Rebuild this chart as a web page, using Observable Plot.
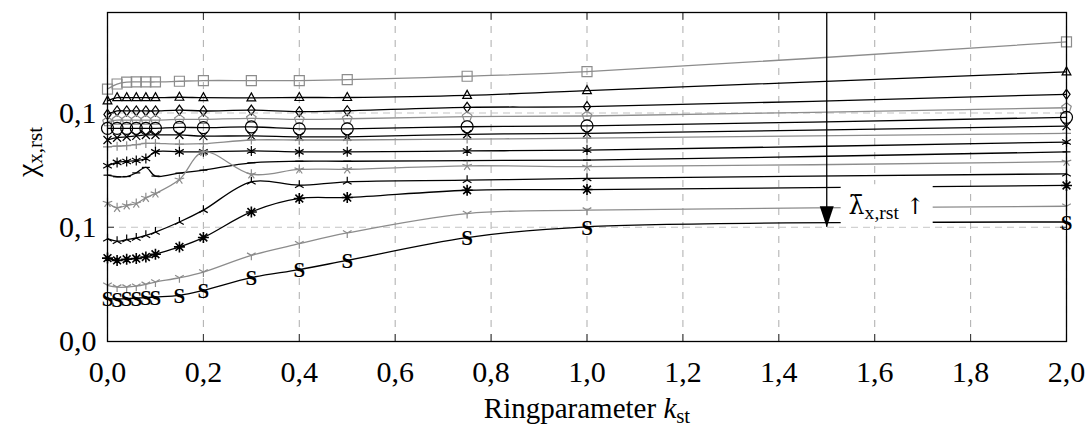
<!DOCTYPE html>
<html><head><meta charset="utf-8">
<script src="https://cdn.jsdelivr.net/npm/d3@7"></script>
<script src="https://cdn.jsdelivr.net/npm/@observablehq/plot@0.6"></script>
<style>body{margin:0;background:#fff} svg{display:block}</style>
</head><body><div id="chart"></div>
<script>
// ---------- data ----------
const kst = [0, 0.02, 0.04, 0.06, 0.08, 0.1, 0.15, 0.2, 0.3, 0.4, 0.5, 0.75, 1.0, 2.0];
const sSquare   = [0.1105,0.1127,0.1135,0.1136,0.1136,0.1136,0.1139,0.1142,0.1142,0.1142,0.1146,0.1161,0.1181,0.1311];
const sTriangle = [0.1053,0.1067,0.1067,0.1067,0.1067,0.1067,0.1069,0.1067,0.1066,0.1068,0.1068,0.1077,0.1098,0.1180];
const sDiamond  = [0.0994,0.1009,0.1009,0.1009,0.1009,0.1009,0.1013,0.1009,0.1013,0.1006,0.1010,0.1025,0.1028,0.1082];
const sPentagon = [0.0962,0.0969,0.0969,0.0969,0.0969,0.0969,0.0972,0.0972,0.0977,0.0972,0.0975,0.0984,0.0987,0.1023];
const sCircle   = [0.0933,0.0933,0.0933,0.0933,0.0933,0.0933,0.0937,0.0936,0.0939,0.0931,0.0931,0.0940,0.0944,0.0981];
const sTimes    = [0.0882,0.0892,0.0896,0.0900,0.0904,0.0904,0.0904,0.0899,0.0900,0.0896,0.0896,0.0907,0.0911,0.0943];
const sPlus     = [0.0852,0.0855,0.0857,0.0862,0.0867,0.0867,0.0864,0.0866,0.0882,0.0882,0.0882,0.0886,0.0890,0.0911];
const sAsterisk = [0.0769,0.0784,0.0788,0.0792,0.0801,0.0830,0.0830,0.0830,0.0834,0.0830,0.0830,0.0834,0.0838,0.0873];
const sMinus    = [0.0728,0.0721,0.0722,0.0738,0.0762,0.0724,0.0737,0.0750,0.0782,0.0789,0.0789,0.0792,0.0794,0.0830];
const sStar     = [0.0607,0.0585,0.0596,0.0604,0.0629,0.0648,0.0709,0.0830,0.0732,0.0753,0.0754,0.0769,0.0765,0.0787];
const sTriUp    = [0.0450,0.0439,0.0446,0.0453,0.0465,0.0479,0.0523,0.0575,0.0699,0.0684,0.0699,0.0706,0.0714,0.0734];
const sBurst    = [0.0365,0.0355,0.0360,0.0363,0.0370,0.0382,0.0414,0.0455,0.0567,0.0626,0.0630,0.0662,0.0665,0.0683];
const sTriDown  = [0.0246,0.0238,0.0238,0.0242,0.0250,0.0260,0.0279,0.0304,0.0377,0.0428,0.0475,0.0560,0.0575,0.0592];
const sS        = [0.0188,0.0187,0.0188,0.0190,0.0192,0.0195,0.0202,0.0224,0.0280,0.0315,0.0355,0.0455,0.0502,0.0523];

const xTicks = [0, 0.2, 0.4, 0.6, 0.8, 1.0, 1.2, 1.4, 1.6, 1.8, 2.0];
const xTickLabels = ["0,0","0,2","0,4","0,6","0,8","1,0","1,2","1,4","1,6","1,8","2,0"];
const yTicks = [0, 0.05, 0.1];
const yTickLabels = ["0,0","0,1","0,1"];
const xLabel = "Ringparameter kst";
const yLabel = "χx,rst";
const arrowAt = [{k: 1.5, v: 0.05}];
const annotation = [{k: 1.625, v: 0.0596, text: "λ̄x,rst ↑"}];

// ---------- styling ----------
const BLACK = "#000", GRAY = "#8c8c8c";
const SERIF = "'Liberation Serif', 'DejaVu Serif', serif";
const YMAX = 0.144;
const sym = fn => ({draw(c, size){ fn(c, Math.sqrt(size/Math.PI)); }});
const poly = (c, pts) => { pts.forEach(([x,y],i)=> i? c.lineTo(x,y) : c.moveTo(x,y)); c.closePath(); };
const rays = (c, r, angles) => angles.forEach(a => { c.moveTo(0,0); c.lineTo(r*Math.cos(a), r*Math.sin(a)); });
const deg = Math.PI/180;
const SYM = {
  square: sym((c,r)=>poly(c, [[-r,-r],[r,-r],[r,r],[-r,r]])),
  triangle: sym((c,r)=>poly(c, [[0,-r*1.1],[r*0.95,r*0.65],[-r*0.95,r*0.65]])),
  diamond: sym((c,r)=>poly(c, [[0,-r],[r*0.72,0],[0,r],[-r*0.72,0]])),
  pentagon: sym((c,r)=>poly(c, d3.range(5).map(i=>[r*Math.cos(-90*deg+i*72*deg), r*Math.sin(-90*deg+i*72*deg)]))),
  circle: sym((c,r)=>{c.moveTo(r,0); c.arc(0,0,r,0,2*Math.PI);}),
  times: sym((c,r)=>{c.moveTo(-r,-r);c.lineTo(r,r);c.moveTo(-r,r);c.lineTo(r,-r);}),
  plus: sym((c,r)=>{c.moveTo(-r,0);c.lineTo(r,0);c.moveTo(0,-r);c.lineTo(0,r);}),
  asterisk: sym((c,r)=>rays(c, r, [-90,-30,30,90,150,210].map(a=>a*deg))),
  star: sym((c,r)=>rays(c, r, [-90,-18,54,126,198].map(a=>a*deg))),
  minus: sym((c,r)=>{c.moveTo(-r,0);c.lineTo(r,0);}),
  triUp: sym((c,r)=>rays(c, r, [-90,30,150].map(a=>a*deg))),
  triDown: sym((c,r)=>rays(c, r, [90,-30,-150].map(a=>a*deg))),
  burst: sym((c,r)=>rays(c, r, d3.range(8).map(i=>i*45*deg))),
  arrowHead: sym((c,r)=>poly(c, [[0,0],[-7,-21],[7,-21]])),
  box: sym((c,r)=>poly(c, [[-46,-21],[46,-21],[46,21],[-46,21]]))
};

const series = [
  {values: sSquare,   color: GRAY,  symbol: SYM.square,   r: 5},
  {values: sTriangle, color: BLACK, symbol: SYM.triangle, r: 4.6},
  {values: sDiamond,  color: BLACK, symbol: SYM.diamond,  r: 5},
  {values: sPentagon, color: GRAY,  symbol: SYM.pentagon, r: 5},
  {values: sCircle,   color: BLACK, symbol: SYM.circle,   r: 6},
  {values: sTimes,    color: BLACK, symbol: SYM.times,    r: 4},
  {values: sPlus,     color: GRAY,  symbol: SYM.plus,     r: 4.5},
  {values: sAsterisk, color: BLACK, symbol: SYM.asterisk, r: 5},
  {values: sMinus,    color: BLACK, symbol: SYM.minus,    r: 4},
  {values: sStar,     color: GRAY,  symbol: SYM.star,     r: 5},
  {values: sTriUp,    color: BLACK, symbol: SYM.triUp,    r: 5},
  {values: sBurst,    color: BLACK, symbol: SYM.burst,    r: 5.5, sw: 1.6},
  {values: sTriDown,  color: GRAY,  symbol: SYM.triDown,  r: 5},
  {values: sS,        color: BLACK, text: "S"}
];

const marks = [
  Plot.gridX(xTicks, {stroke: "#b4b4b4", strokeOpacity: 1, strokeDasharray: "7,7", strokeWidth: 1.1}),
  Plot.gridY(yTicks.filter(d => d > 0), {stroke: "#c4c4c4", strokeOpacity: 1, strokeDasharray: "7,5", strokeWidth: 1.1}),
  Plot.axisX(xTicks, {anchor: "bottom", tickSize: -7, fill: "none", label: null, stroke: "#333"}),
  Plot.axisX(xTicks, {anchor: "top", tickSize: -7, fill: "none", label: null, stroke: "#333"}),
  Plot.axisY(yTicks, {anchor: "left", tickSize: -7, fill: "none", label: null, stroke: "#333"}),
  Plot.axisY(yTicks, {anchor: "right", tickSize: -7, fill: "none", label: null, stroke: "#333"}),
  Plot.axisX(xTicks, {anchor: "bottom", tickSize: 0, tickPadding: 19, stroke: "none", label: null,
    tickFormat: d => xTickLabels[xTicks.indexOf(d)], fontSize: 30, fontFamily: SERIF, fill: "#000"}),
  Plot.axisY(yTicks, {anchor: "left", tickSize: 0, tickPadding: 11, stroke: "none", label: null,
    tickFormat: d => yTickLabels[yTicks.indexOf(d)], fontSize: 30, fontFamily: SERIF, fill: "#000"})
];

for (const s of series) {
  const rows = s.values.map((v, i) => ({k: kst[i], v}));
  marks.push(Plot.line(rows, {x: "k", y: "v", curve: "catmull-rom", stroke: s.color, strokeWidth: 1.3}));
  if (s.text) {
    marks.push(Plot.text(rows, {x: "k", y: "v", text: () => s.text, fill: s.color, fontSize: 21,
      fontWeight: "bold", fontFamily: SERIF, dy: 1}));
  } else {
    marks.push(Plot.dot(rows, {x: "k", y: "v", symbol: s.symbol, r: s.r, stroke: s.color, fill: "none",
      strokeWidth: s.sw || 1.2}));
  }
}

marks.push(
  Plot.ruleX(arrowAt, {x: "k", y1: YMAX, y2: "v", stroke: "#000", strokeWidth: 1.3}),
  Plot.dot(arrowAt, {x: "k", y: "v", symbol: SYM.arrowHead, r: 5, fill: "#000", stroke: "none"}),
  Plot.dot(annotation, {x: "k", y: "v", symbol: SYM.box, r: 5, fill: "#fff", stroke: "none"}),
  Plot.text(annotation, {x: "k", y: "v", text: "text", fontSize: 28, fontFamily: SERIF, fill: "#000", className: "annot"}),
  Plot.text([xLabel], {frameAnchor: "bottom", dy: 76, text: d => d, fontSize: 29, fontFamily: SERIF, fill: "#000", className: "xlab"}),
  Plot.text([yLabel], {frameAnchor: "left", dx: -80, rotate: -90, text: d => d, fontSize: 30, fontFamily: SERIF, fill: "#000", className: "ylab"}),
  Plot.frame({stroke: "#000", strokeWidth: 1.3})
);

const chart = Plot.plot({
  width: 1091, height: 430,
  marginLeft: 107, marginRight: 25, marginTop: 12, marginBottom: 89,
  x: {domain: [0, 2]},
  y: {domain: [0, YMAX]},
  style: {background: "#fff", fontFamily: SERIF},
  marks
});
document.getElementById("chart").appendChild(chart);

// subscripts for labels (text remains real text)
function subscriptify(sel, parts) {
  sel.each(function() {
    const t = d3.select(this);
    t.text(null);
    for (const p of parts) {
      const ts = t.append("tspan").text(p.t);
      if (p.italic) ts.attr("font-style", "italic");
      if (p.size) ts.attr("font-size", p.size);
      if (p.dy) ts.attr("dy", p.dy);
      if (p.font) ts.attr("font-family", p.font);
    }
  });
}
const DV = "'DejaVu Serif', serif";
subscriptify(d3.select(chart).selectAll(".xlab text"),
  [{t: "Ringparameter "}, {t: "k", italic: true}, {t: "st", size: "0.72em", dy: "0.25em"}]);
subscriptify(d3.select(chart).selectAll(".ylab text"),
  [{t: "χ"}, {t: "x,rst", size: "0.7em", dy: "0.25em"}]);
subscriptify(d3.select(chart).selectAll(".annot text"),
  [{t: "λ̄", font: DV, size: "0.9em"}, {t: "x,rst", size: "0.7em", dy: "0.25em"}, {t: " ↑", dy: "-0.25em", font: DV, size: "0.8em"}]);
</script>
</body></html>
